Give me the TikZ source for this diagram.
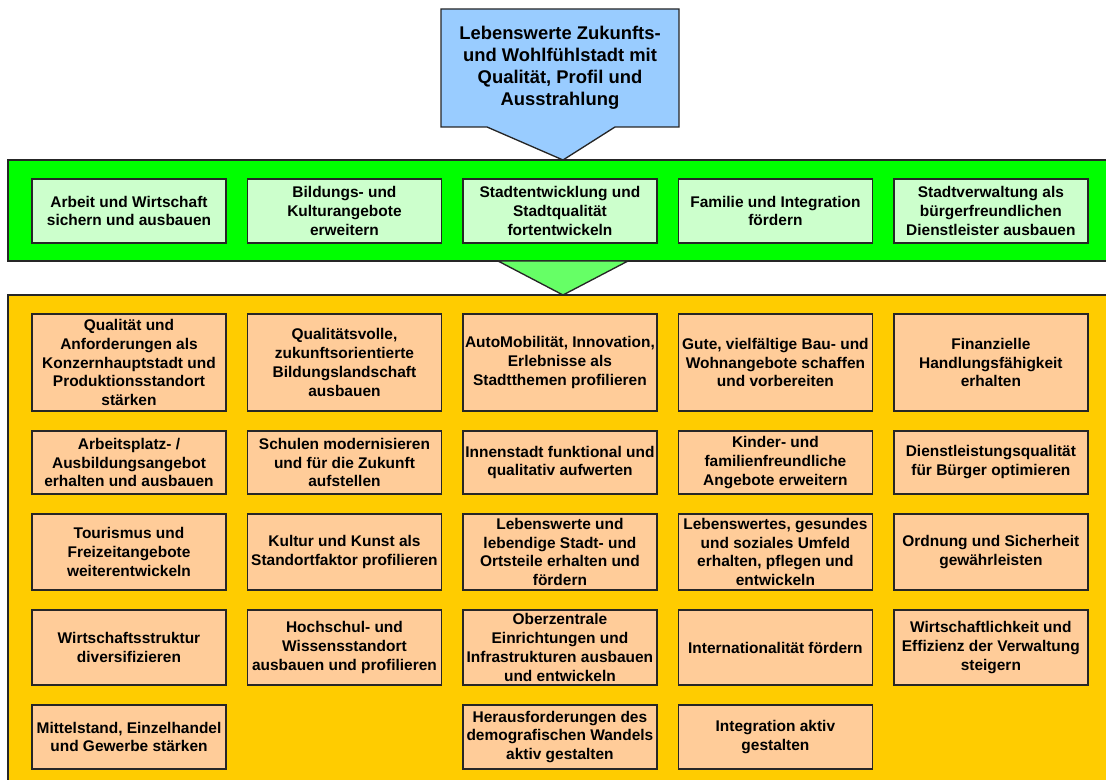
\documentclass[tikz,border=0pt]{standalone}
\usepackage{fontspec}
\setmainfont{Liberation Sans}
\usepackage{tikz}
\usetikzlibrary{shapes.callouts,positioning}

\definecolor{visionblue}{RGB}{153,204,255}
\definecolor{bandgreen}{RGB}{0,255,0}
\definecolor{zielgreen}{RGB}{204,255,204}
\definecolor{arrowgreen}{RGB}{102,255,102}
\definecolor{bandorange}{RGB}{255,204,0}
\definecolor{massorange}{RGB}{255,204,153}

\begin{document}
\begin{tikzpicture}[
    x=0.75pt, y=-0.75pt,
    node distance=15pt and 16.1pt,
    outline/.style={draw=black!85, line width=1pt},
    field/.style={rectangle, outline, outer sep=0pt, minimum width=145.5pt, align=center, inner xsep=1pt, inner ysep=0pt, font=\fontsize{11.6}{14.2}\selectfont\bfseries},
    ziel/.style={field, fill=zielgreen, minimum height=48pt},
    mass/.style={field, fill=massorange},
    rowA/.style={mass, minimum height=72.75pt},
    rowB/.style={mass, minimum height=47.25pt},
    rowC/.style={mass, minimum height=57pt},
    rowD/.style={mass, minimum height=56.25pt},
    rowE/.style={mass, minimum height=48pt}
]
\useasboundingbox (0,0) rectangle (1106,780);

% the two bands behind the fields
\draw[outline, fill=bandgreen] (8,160) rectangle (1125,261);
\draw[outline, fill=bandorange] (8,295) rectangle (1125,800);

% leitbild on top
\node[rectangle callout, outline, fill=visionblue, minimum width=178.5pt, minimum height=88.5pt,
      callout absolute pointer={(563,160)}, callout pointer width=96pt,
      align=center, font=\fontsize{13.8}{16.5}\selectfont\bfseries] (vision) at (560,68)
    {Lebenswerte Zukunfts-\\und Wohlfühlstadt mit\\Qualität, Profil und\\Ausstrahlung};

% strategische Ziele
\node[ziel] (wirtschaft) at (129,211) {Arbeit und Wirtschaft\\sichern und ausbauen};
\node[ziel, right=of wirtschaft] (bildung) {Bildungs- und\\Kulturangebote\\erweitern};
\node[ziel, right=of bildung] (stadt) {Stadtentwicklung und\\Stadtqualität\\fortentwickeln};
\node[ziel, right=of stadt] (familie) {Familie und Integration\\fördern};
\node[ziel, right=of familie] (verwaltung) {Stadtverwaltung als\\bürgerfreundlichen\\Dienstleister ausbauen};

% arrow down to the Handlungsfelder
\coordinate (pfeilL) at (498,261);
\coordinate (pfeilR) at (628,261);
\coordinate (pfeil) at (563,295);
\draw[outline, fill=arrowgreen, line join=miter] (pfeilL) -- (pfeil) -- (pfeilR) -- cycle;

% Handlungsfelder, row by row
\node[rowA] (w1) at (129,362.5) {Qualität und\\Anforderungen als\\Konzernhauptstadt und\\Produktionsstandort\\stärken};
\node[rowA, right=of w1] (b1) {Qualitätsvolle,\\zukunftsorientierte\\Bildungslandschaft\\ausbauen};
\node[rowA, right=of b1] (s1) {AutoMobilität, Innovation,\\Erlebnisse als\\Stadtthemen profilieren};
\node[rowA, right=of s1] (f1) {Gute, vielfältige Bau- und\\Wohnangebote schaffen\\und vorbereiten};
\node[rowA, right=of f1] (v1) {Finanzielle\\Handlungsfähigkeit\\erhalten};

\node[rowB, below=of w1] (w2) {Arbeitsplatz- /\\Ausbildungsangebot\\erhalten und ausbauen};
\node[rowB, right=of w2] (b2) {Schulen modernisieren\\und für die Zukunft\\aufstellen};
\node[rowB, right=of b2] (s2) {Innenstadt funktional und\\qualitativ aufwerten};
\node[rowB, right=of s2] (f2) {Kinder- und\\familienfreundliche\\Angebote erweitern};
\node[rowB, right=of f2] (v2) {Dienstleistungsqualität\\für Bürger optimieren};

\node[rowC, below=of w2] (w3) {Tourismus und\\Freizeitangebote\\weiterentwickeln};
\node[rowC, right=of w3] (b3) {Kultur und Kunst als\\Standortfaktor profilieren};
\node[rowC, right=of b3] (s3) {Lebenswerte und\\lebendige Stadt- und\\Ortsteile erhalten und\\fördern};
\node[rowC, right=of s3] (f3) {Lebenswertes, gesundes\\und soziales Umfeld\\erhalten, pflegen und\\entwickeln};
\node[rowC, right=of f3] (v3) {Ordnung und Sicherheit\\gewährleisten};

\node[rowD, below=of w3] (w4) {Wirtschaftsstruktur\\diversifizieren};
\node[rowD, right=of w4] (b4) {Hochschul- und\\Wissensstandort\\ausbauen und profilieren};
\node[rowD, right=of b4] (s4) {Oberzentrale\\Einrichtungen und\\Infrastrukturen ausbauen\\und entwickeln};
\node[rowD, right=of s4] (f4) {Internationalität fördern};
\node[rowD, right=of f4] (v4) {Wirtschaftlichkeit und\\Effizienz der Verwaltung\\steigern};

\node[rowE, below=of w4] (w5) {Mittelstand, Einzelhandel\\und Gewerbe stärken};
\node[rowE, below=of s4] (s5) {Herausforderungen des\\demografischen Wandels\\aktiv gestalten};
\node[rowE, right=of s5] (f5) {Integration aktiv\\gestalten};

\end{tikzpicture}
\end{document}
